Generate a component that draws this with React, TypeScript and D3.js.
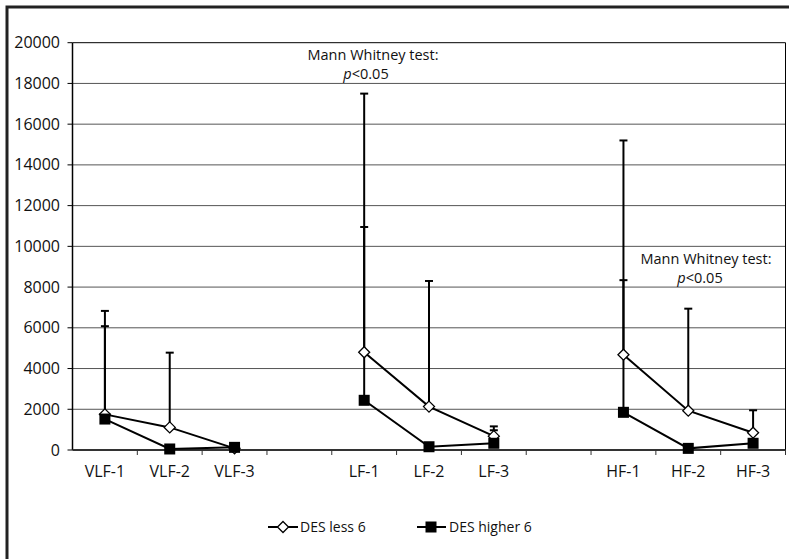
import React from 'react';
import * as d3 from 'd3';

const categories = ['VLF-1', 'VLF-2', 'VLF-3', '', 'LF-1', 'LF-2', 'LF-3', '', 'HF-1', 'HF-2', 'HF-3'];
// DES less 6 (open diamonds)
const lessValues = [1750, 1110, 80, null, 4800, 2130, 680, null, 4680, 1930, 850];
const lessUpper = [6830, 4780, 150, null, 17500, 8300, 1160, null, 15200, 6940, 1950];
// DES higher 6 (filled squares)
const higherValues = [1520, 50, 130, null, 2440, 160, 330, null, 1850, 80, 330];
const higherUpper = [6080, 100, 200, null, 10950, 250, 970, null, 8340, 150, 400];
const yTicks = [0, 2000, 4000, 6000, 8000, 10000, 12000, 14000, 16000, 18000, 20000];

const font = '"Open Sans", sans-serif';

const App = () => {
  const width = 789;
  const height = 559;
  const left = 72.5;
  const right = 785.5;
  const top = 42.7;
  const bottom = 450;

  const x = d3.scaleBand<number>().domain(categories.map((_, i) => i)).range([left, right]);
  const y = d3.scaleLinear().domain([0, 20000]).range([bottom, top]);
  const cx = (i: number) => (x(i) as number) + x.bandwidth() / 2;

  const line = d3
    .line<number | null>()
    .defined((d) => d !== null)
    .x((_, i) => cx(i))
    .y((d) => y(d as number));

  const errBars = (vals: (number | null)[], ups: (number | null)[], key: string) =>
    vals.map((v, i) =>
      v === null || ups[i] === null ? null : (
        <g key={key + i} stroke="#000" strokeWidth={2}>
          <line x1={cx(i)} x2={cx(i)} y1={y(v)} y2={y(ups[i] as number)} />
          <line x1={cx(i) - 4} x2={cx(i) + 4} y1={y(ups[i] as number)} y2={y(ups[i] as number)} />
        </g>
      )
    );

  const diamond = (px: number, py: number, k: string) => (
    <path key={k} d={`M${px},${py - 5.5}L${px + 5.5},${py}L${px},${py + 5.5}L${px - 5.5},${py}Z`} fill="#fff" stroke="#000" strokeWidth={1.3} />
  );
  const square = (px: number, py: number, k: string) => (
    <rect key={k} x={px - 5.5} y={py - 5.5} width={11} height={11} fill="#000" />
  );

  return (
    <svg width={width} height={height} style={{ position: 'absolute', left: 0, top: 0, background: '#fff' }}>
      <rect x={7} y={7} width={900} height={700} fill="#fff" stroke="#222" strokeWidth={3} />

      {/* gridlines */}
      {yTicks.map((t) => (
        <line key={'g' + t} x1={left} x2={right} y1={y(t)} y2={y(t)} stroke={t === 20000 ? '#000' : '#555'} strokeWidth={1} />
      ))}
      <line x1={right} x2={right} y1={top} y2={bottom} stroke="#000" strokeWidth={1} />

      {/* y axis */}
      <line x1={left} x2={left} y1={top} y2={bottom} stroke="#000" strokeWidth={1.5} />
      {yTicks.map((t) => (
        <g key={'yt' + t}>
          <line x1={left - 5} x2={left} y1={y(t)} y2={y(t)} stroke="#000" />
          <text x={60} y={y(t)} dy="0.35em" textAnchor="end" fontFamily={font} fontSize={16} fill="#111">
            {t}
          </text>
        </g>
      ))}

      {/* x axis */}
      <line x1={left} x2={right} y1={bottom} y2={bottom} stroke="#333" strokeWidth={2} />
      {categories.map((c, i) => (
        <g key={'xt' + i}>
          <line x1={(x(i) as number) + x.bandwidth()} x2={(x(i) as number) + x.bandwidth()} y1={bottom} y2={bottom + 5} stroke="#333" />
          <text x={cx(i)} y={477} textAnchor="middle" fontFamily={font} fontSize={16} fill="#111">
            {c}
          </text>
        </g>
      ))}

      {/* error bars */}
      {errBars(lessValues, lessUpper, 'le')}
      {errBars(higherValues, higherUpper, 'he')}

      {/* lines */}
      <path d={line(lessValues) || ''} fill="none" stroke="#000" strokeWidth={2} />
      <path d={line(higherValues) || ''} fill="none" stroke="#000" strokeWidth={2} />

      {/* markers */}
      {lessValues.map((v, i) => (v === null ? null : diamond(cx(i), y(v), 'd' + i)))}
      {higherValues.map((v, i) => (v === null ? null : square(cx(i), y(v), 's' + i)))}

      {/* annotations */}
      <g fontFamily={font} fontSize={14.5} fill="#111">
        <text x={373} y={60} textAnchor="middle">Mann Whitney test:</text>
        <text x={366} y={79} textAnchor="middle">
          <tspan fontStyle="italic">p</tspan>&lt;0.05
        </text>
        <text x={706} y={264} textAnchor="middle">Mann Whitney test:</text>
        <text x={700} y={283} textAnchor="middle">
          <tspan fontStyle="italic">p</tspan>&lt;0.05
        </text>
      </g>

      {/* legend */}
      <g fontFamily={font} fontSize={14} fill="#111">
        <line x1={268} x2={298} y1={527} y2={527} stroke="#000" strokeWidth={2} />
        {diamond(283, 527, 'ld')}
        <text x={300} y={532}>DES less 6</text>
        <line x1={417} x2={446} y1={527} y2={527} stroke="#000" strokeWidth={2} />
        {square(431, 527, 'ls')}
        <text x={449} y={532}>DES higher 6</text>
      </g>
    </svg>
  );
};

export default App;
